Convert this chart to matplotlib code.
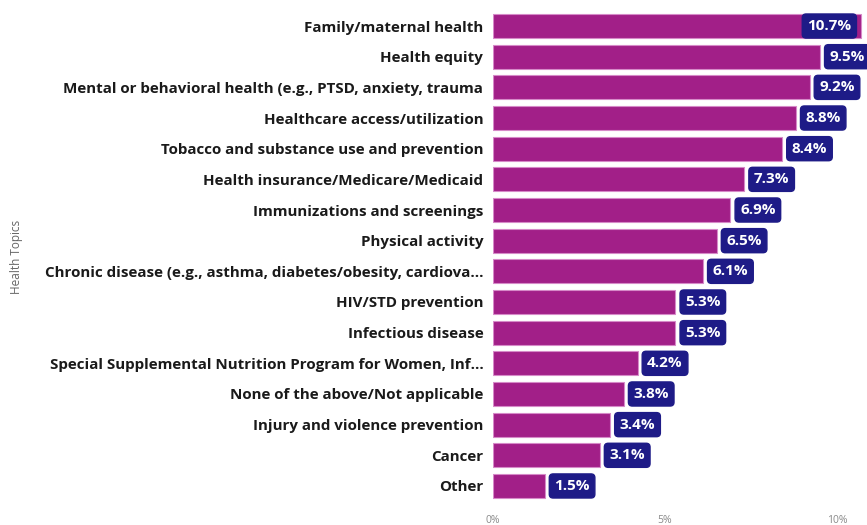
import matplotlib
matplotlib.use("Agg")
import matplotlib.pyplot as plt

categories = [
    "Family/maternal health",
    "Health equity",
    "Mental or behavioral health (e.g., PTSD, anxiety, trauma",
    "Healthcare access/utilization",
    "Tobacco and substance use and prevention",
    "Health insurance/Medicare/Medicaid",
    "Immunizations and screenings",
    "Physical activity",
    "Chronic disease (e.g., asthma, diabetes/obesity, cardiova...",
    "HIV/STD prevention",
    "Infectious disease",
    "Special Supplemental Nutrition Program for Women, Inf...",
    "None of the above/Not applicable",
    "Injury and violence prevention",
    "Cancer",
    "Other",
]
values = [10.7, 9.5, 9.2, 8.8, 8.4, 7.3, 6.9, 6.5, 6.1, 5.3, 5.3, 4.2, 3.8, 3.4, 3.1, 1.5]
xticks = [0, 5, 10]
xtick_labels = ["0%", "5%", "10%"]

BAR = "#A21F88"
EDGE = "#D68AC8"
NAVY = "#1E1B87"
FONT = ["Open Sans", "DejaVu Sans"]

fig = plt.figure(figsize=(8.67, 5.25), dpi=100)
ax = fig.add_axes([493/867, 23.7/525, 1 - 493/867, 490.6/525])

y = list(range(len(categories)))
ax.barh(y, values, height=0.79, color=BAR, edgecolor=EDGE, linewidth=0.8)
ax.set_ylim(len(categories) - 0.5, -0.5)
ax.set_xlim(0, 10.87)

ax.set_yticks(y)
ax.set_yticklabels(categories, fontsize=10.9, fontweight="bold", family=FONT, color="#1a1a1a")
ax.set_xticks(xticks)
ax.set_xticklabels(xtick_labels, fontsize=7.5, family=FONT, color="#8a8a8a")
ax.tick_params(axis="both", length=0)
ax.tick_params(axis="y", pad=7)
ax.tick_params(axis="x", pad=10)
for s in ax.spines.values():
    s.set_visible(False)

fig.text(17/867, 0.51, "Health Topics", rotation=90, ha="center", va="center",
         fontsize=8.5, family=FONT, color="#666666")

for yi, v in zip(y, values):
    label = f"{v:.1f}%"
    inside = v > 10.2
    ax.annotate(label, xy=(v, yi), xytext=(-7 if inside else 7, 0),
                textcoords="offset points", ha="right" if inside else "left",
                va="center", fontsize=11, fontweight="bold", family=FONT,
                color="white", annotation_clip=False,
                bbox=dict(boxstyle="round,pad=0.33,rounding_size=0.25",
                          facecolor=NAVY, edgecolor=NAVY))

fig.savefig("out.png", dpi=100)
